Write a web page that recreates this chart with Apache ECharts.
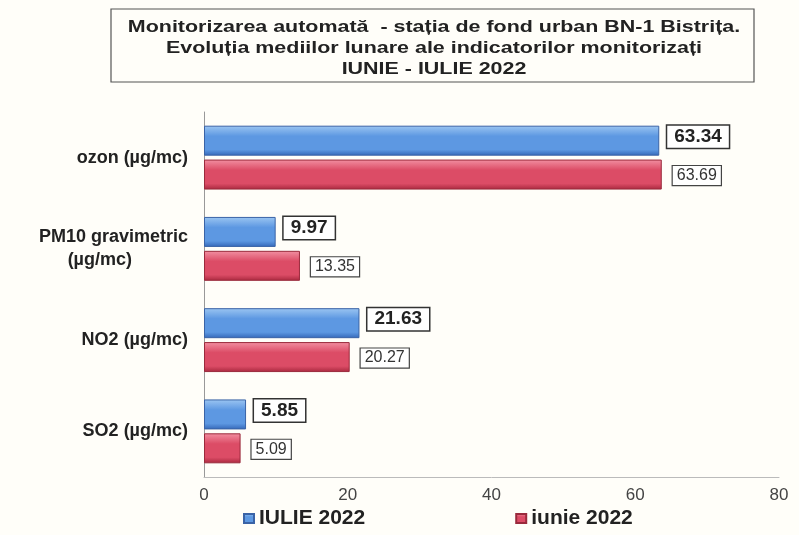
<!DOCTYPE html>
<html>
<head>
<meta charset="utf-8">
<script src="https://cdn.jsdelivr.net/npm/echarts@6/dist/echarts.min.js"></script>
<style>
  html, body { margin: 0; padding: 0; background: #fffef9; }
  #chart { width: 799px; height: 535px; }
</style>
</head>
<body>
<div id="chart"></div>
<script>
const categories = ['ozon (µg/mc)', 'PM10 gravimetric\n(µg/mc)', 'NO2 (µg/mc)', 'SO2 (µg/mc)'];
const iulie = [63.34, 9.97, 21.63, 5.85];
const iunie = [63.69, 13.35, 20.27, 5.09];
const xTicks = [0, 20, 40, 60, 80];
const titleLines = [
  'Monitorizarea automată  - stația de fond urban BN-1 Bistrița.',
  'Evoluția mediilor lunare ale indicatorilor monitorizați',
  'IUNIE - IULIE 2022'
];

const chart = echarts.init(document.getElementById('chart'));

function grad(top, mid, bottom) {
  return new echarts.graphic.LinearGradient(0, 0, 0, 1, [
    { offset: 0, color: top },
    { offset: 0.35, color: mid },
    { offset: 0.8, color: mid },
    { offset: 1, color: bottom }
  ]);
}

const option = {
  backgroundColor: '#fffef9',
  textStyle: { fontFamily: 'Liberation Sans, Arial, sans-serif' },
  graphic: [
    {
      type: 'rect',
      shape: { x: 111, y: 9, width: 643, height: 73 },
      style: { fill: 'none', stroke: '#555', lineWidth: 1.2 }
    },
    {
      type: 'text',
      x: 434,
      y: 17,
      scaleX: 1.34,
      style: {
        text: titleLines.join('\n'),
        font: 'bold 16px "Liberation Sans", Arial, sans-serif',
        fill: '#222',
        lineHeight: 21,
        align: 'center',
        verticalAlign: 'top',
        textAlign: 'center',
        textVerticalAlign: 'top'
      }
    }
  ],
  legend: {
    left: 238,
    bottom: 1,
    itemWidth: 10,
    itemHeight: 9,
    itemGap: 150,
    icon: 'rect',
    textStyle: { fontSize: 21, fontWeight: 'bold', color: '#222' },
    data: ['IULIE 2022', 'iunie 2022']
  },
  grid: { left: 204, right: 20, top: 112, bottom: 58, containLabel: false },
  xAxis: {
    type: 'value',
    min: 0,
    max: 80,
    interval: 20,
    axisLine: { show: true, lineStyle: { color: '#bbb' } },
    axisTick: { show: false },
    splitLine: { show: false },
    axisLabel: {
      fontSize: 17,
      color: '#444',
      margin: 10,
      formatter: v => xTicks.includes(v) ? String(v) : ''
    }
  },
  yAxis: {
    type: 'category',
    inverse: true,
    data: categories,
    axisLine: { show: true, lineStyle: { color: '#999' } },
    axisTick: { show: false },
    axisLabel: {
      margin: 16,
      fontSize: 18,
      fontWeight: 'bold',
      color: '#222',
      lineHeight: 23,
      formatter: v => v.indexOf('\n') >= 0
        ? 'PM10 gravimetric\n{s|(µg/mc)}'
        : v,
      rich: { s: { fontSize: 18, fontWeight: 'bold', color: '#222', lineHeight: 23, padding: [0, 56, 0, 0] } }
    }
  },
  series: [
    {
      name: 'IULIE 2022',
      type: 'bar',
      data: iulie,
      barWidth: 30,
      barGap: '13%',
      itemStyle: {
        color: grad('#9cc6f2', '#5d98e2', '#3467b8'),
        borderColor: '#3a63a6',
        borderWidth: 1
      },
      label: {
        show: true,
        position: 'right',
        distance: 8,
        offset: [0, -4],
        fontSize: 19,
        fontWeight: 'bold',
        color: '#222',
        backgroundColor: '#fff',
        borderColor: '#333',
        borderWidth: 1.5,
        padding: [2, 7, 1, 7],
        formatter: p => p.value.toFixed(2)
      }
    },
    {
      name: 'iunie 2022',
      type: 'bar',
      data: iunie,
      barWidth: 30,
      itemStyle: {
        color: grad('#f290a2', '#dc4c66', '#a8283e'),
        borderColor: '#9a2a3c',
        borderWidth: 1
      },
      label: {
        show: true,
        position: 'right',
        distance: 11,
        offset: [0, 1],
        fontSize: 16,
        color: '#333',
        backgroundColor: '#fff',
        borderColor: '#444',
        borderWidth: 1.2,
        padding: [2, 4, 1, 4],
        formatter: p => p.value.toFixed(2)
      }
    }
  ]
};

chart.setOption(option);
</script>
</body>
</html>
